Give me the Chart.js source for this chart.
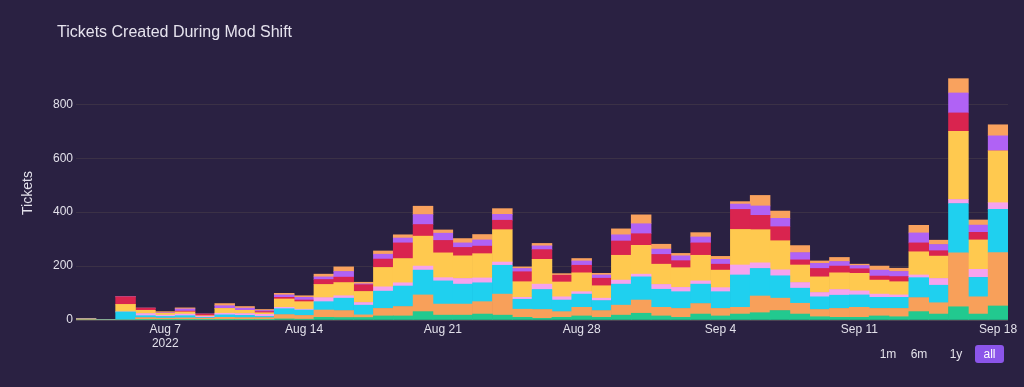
<!DOCTYPE html>
<html>
<head>
<meta charset="utf-8">
<script src="https://cdn.jsdelivr.net/npm/chart.js@4/dist/chart.umd.min.js"></script>
<style>
  body { margin: 0; background: #2a2142; font-family: "Liberation Sans", Arial, sans-serif; }
  #wrap { position: relative; width: 1024px; height: 387px; }
  #title { position: absolute; left: 57px; top: 23px; font-size: 16px; line-height: 18px; color: #e6e3ee; }
  .btn { position: absolute; top: 345px; height: 18px; line-height: 18px; font-size: 12px; color: #e4e2ea; text-align: center; }
  .btn.on { background: #8b55e9; color: #ffffff; border-radius: 3px; }
</style>
</head>
<body>
<div id="wrap">
  <canvas id="chartTickets"></canvas>
  <div id="title">Tickets Created During Mod Shift</div>
  <div class="btn" style="left:878px;width:20px">1m</div>
  <div class="btn" style="left:909px;width:20px">6m</div>
  <div class="btn" style="left:946px;width:20px">1y</div>
  <div class="btn on" style="left:975px;width:29px">all</div>
</div>
<script>
// Days Aug 3 .. Sep 18 2022
const days = ["Aug 3", "Aug 4", "Aug 5", "Aug 6", "Aug 7", "Aug 8", "Aug 9", "Aug 10", "Aug 11", "Aug 12",
    "Aug 13", "Aug 14", "Aug 15", "Aug 16", "Aug 17", "Aug 18", "Aug 19", "Aug 20", "Aug 21", "Aug 22",
    "Aug 23", "Aug 24", "Aug 25", "Aug 26", "Aug 27", "Aug 28", "Aug 29", "Aug 30", "Aug 31", "Sep 1",
    "Sep 2", "Sep 3", "Sep 4", "Sep 5", "Sep 6", "Sep 7", "Sep 8", "Sep 9", "Sep 10", "Sep 11",
    "Sep 12", "Sep 13", "Sep 14", "Sep 15", "Sep 16", "Sep 17", "Sep 18"];

const tickLabels = ["Aug 7", "Aug 14", "Aug 21", "Aug 28", "Sep 4", "Sep 11", "Sep 18"];
const yearLabel = "2022";
const yTicks = [0, 200, 400, 600, 800];

// series, bottom to top
const green = [0, 0, 0, 1, 1, 1, 1, 1, 1, 1, 4, 3, 10, 9, 9, 15, 15, 31, 18, 18, 22, 18, 10, 6,
    10, 15, 10, 18, 25, 15, 10, 22, 15, 22, 27, 35, 22, 12, 10, 10, 15, 12, 31, 22, 49, 22, 52];
const orange = [4, 0, 0, 8, 6, 7, 6, 9, 8, 8, 16, 14, 27, 26, 10, 28, 35, 62, 41, 41, 46, 78, 30, 33,
    21, 32, 25, 37, 49, 32, 33, 39, 28, 25, 62, 46, 40, 27, 33, 37, 28, 31, 52, 42, 200, 64, 198];
const cyan = [0, 0, 30, 7, 6, 8, 3, 9, 8, 4, 22, 20, 31, 46, 36, 64, 76, 92, 86, 74, 70, 107, 37, 74,
    43, 49, 37, 78, 86, 67, 62, 72, 62, 120, 102, 83, 56, 47, 49, 46, 41, 41, 74, 65, 183, 72, 160];
const pink = [0, 0, 0, 8, 5, 6, 4, 6, 7, 8, 5, 3, 15, 9, 10, 16, 12, 15, 12, 21, 18, 12, 7, 20,
    12, 9, 9, 15, 10, 18, 16, 12, 15, 37, 21, 22, 21, 16, 21, 15, 12, 9, 10, 25, 15, 30, 25];
const yellow = [0, 0, 28, 12, 7, 8, 2, 18, 12, 6, 31, 28, 49, 49, 41, 72, 90, 111, 92, 84, 90, 120, 58, 92,
    55, 70, 46, 92, 107, 75, 73, 95, 65, 132, 123, 108, 65, 58, 62, 65, 52, 49, 86, 83, 253, 109, 192];
const red = [0, 0, 28, 8, 0, 3, 6, 0, 0, 4, 6, 6, 18, 20, 25, 31, 58, 43, 46, 31, 28, 35, 37, 36,
    25, 28, 28, 53, 43, 36, 26, 46, 22, 74, 53, 52, 19, 31, 25, 17, 15, 19, 33, 20, 68, 28, 0];
const purple = [0, 0, 0, 0, 2, 8, 0, 10, 8, 4, 9, 10, 10, 21, 3, 18, 18, 37, 27, 17, 23, 22, 12, 14,
    0, 16, 12, 23, 37, 20, 18, 22, 18, 20, 35, 31, 27, 19, 17, 12, 22, 19, 37, 23, 74, 27, 56];
const peach = [0, 0, 0, 0, 4, 4, 0, 8, 6, 4, 6, 6, 10, 17, 6, 12, 12, 31, 12, 16, 20, 21, 6, 9,
    6, 9, 6, 22, 33, 18, 9, 16, 11, 9, 39, 27, 26, 9, 15, 5, 15, 12, 28, 16, 53, 19, 41];

const textColor = "#e2e0ea";
const gridColor = "#3b3146";
const zeroColor = "#4b4452";

const series = [
    { label: "Green", data: green, backgroundColor: "#22c98f" },
    { label: "Orange", data: orange, backgroundColor: "#f8a05a" },
    { label: "Cyan", data: cyan, backgroundColor: "#1fd0ef" },
    { label: "Pink", data: pink, backgroundColor: "#f5a3ee" },
    { label: "Yellow", data: yellow, backgroundColor: "#ffc94f" },
    { label: "Red", data: red, backgroundColor: "#d9244f" },
    { label: "Purple", data: purple, backgroundColor: "#b062f5" },
    { label: "Peach", data: peach, backgroundColor: "#f9a25e" },
];

const config = {
    type: "bar",
    data: {
        labels: days,
        datasets: series.map((s) => ({
            ...s,
            borderWidth: 0,
            barPercentage: 1,
            categoryPercentage: 1,
        })),
    },
    options: {
        responsive: true,
        maintainAspectRatio: false,
        animation: false,
        layout: { padding: { top: 66, right: 16, left: 0, bottom: 0 } },
        plugins: {
            legend: { display: false },
            tooltip: { enabled: false },
        },
        scales: {
            x: {
                stacked: true,
                afterFit: (s) => { s.height = 67; },
                grid: { display: false, drawTicks: false },
                border: { display: false },
                ticks: {
                    autoSkip: false,
                    maxRotation: 0,
                    padding: 2,
                    color: textColor,
                    font: { size: 12, family: "Liberation Sans" },
                    callback: function (value, index) {
                        const lab = days[index];
                        if (!tickLabels.includes(lab)) return "";
                        return lab === tickLabels[0] ? [lab, yearLabel] : lab;
                    },
                },
            },
            y: {
                stacked: true,
                min: 0,
                max: 942,
                afterFit: (s) => { s.width = 76; },
                afterBuildTicks: (s) => { s.ticks = yTicks.map((v) => ({ value: v })); },
                border: { display: false },
                grid: {
                    drawTicks: false,
                    color: (ctx) => (ctx.tick && ctx.tick.value === 0 ? zeroColor : gridColor),
                },
                ticks: {
                    padding: 3,
                    color: textColor,
                    font: { size: 12, family: "Liberation Sans" },
                },
                title: {
                    display: true,
                    text: "Tickets",
                    color: textColor,
                    font: { size: 14, family: "Liberation Sans" },
                    padding: { top: 20, bottom: 0 },
                },
            },
        },
    },
};

new Chart(document.getElementById("chartTickets"), config);
</script>
</body>
</html>
